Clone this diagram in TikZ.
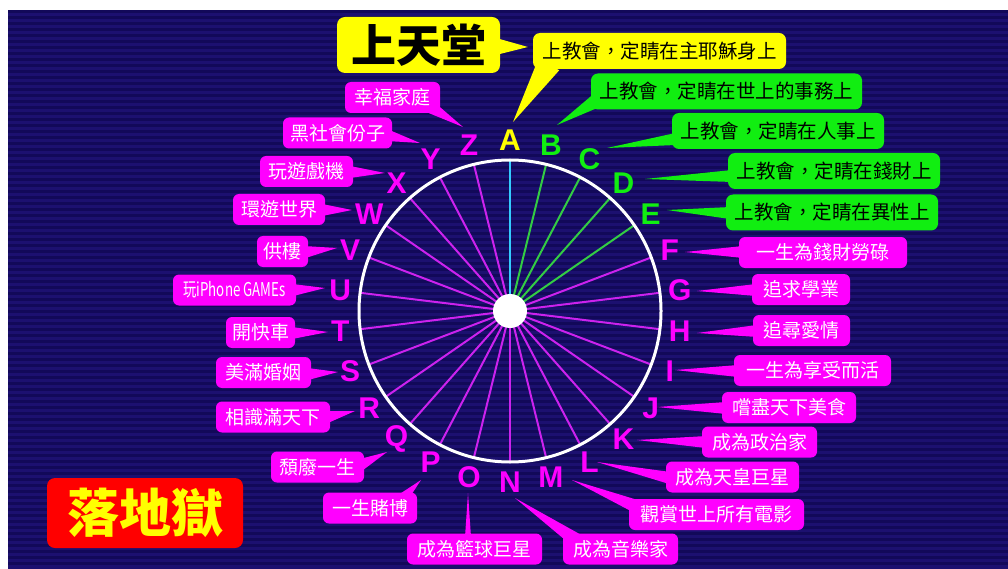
\documentclass[tikz,border=0pt]{standalone}
\usepackage{fontspec}
\setsansfont{Liberation Sans}
\newfontfamily\cjk{Noto Sans CJK TC}
\usetikzlibrary{calc}
\definecolor{bg}{HTML}{1C1070}
\definecolor{bgdark}{HTML}{120959}
\definecolor{mag}{HTML}{FF00FF}
\definecolor{grn}{HTML}{11EE11}
\definecolor{yel}{HTML}{FFFF00}
\definecolor{hellred}{HTML}{FF0000}
\definecolor{smg}{HTML}{CC22EE}
\definecolor{sgr}{HTML}{33CC44}
\definecolor{scy}{HTML}{33CCFF}
\tikzset{
  box/.style={rounded corners=6pt, minimum height=31pt, inner sep=0pt, anchor=center},
  magbox/.style={box, fill=mag, text=white, font=\cjk\fontsize{19}{19}\selectfont},
  grnbox/.style={box, fill=grn, text=black, minimum height=36pt, rounded corners=7pt, font=\cjk\fontsize{19.5}{19.5}\selectfont},
  yelbox/.style={box, fill=yel, text=black, minimum height=36pt, rounded corners=7pt, font=\cjk\fontsize{19.5}{19.5}\selectfont},
  magtail/.style={fill=mag},
  grntail/.style={fill=grn},
  yeltail/.style={fill=yel},
  letter/.style={font=\sffamily\bfseries\fontsize{30}{30}\selectfont, inner sep=0pt},
  spoke/.style={line width=2pt}
}
% #1 name, #2 kind, #3 centre, #4 width, #5 text, #6 tip, #7 base, #8 half width
\newcommand\callout[8]{%
  \node[#2box, minimum width=#4pt] (box#1) at #3 {#5};
  \coordinate (tip#1) at #6;
  \coordinate (base#1) at #7;
  \fill[#2tail] ($(base#1)!#8pt!90:(tip#1)$) -- (tip#1) -- ($(base#1)!#8pt!-90:(tip#1)$) -- cycle;
}
\begin{document}
\begin{tikzpicture}[x=1pt,y=-1pt]
\useasboundingbox (0,0) rectangle (1008,569);
\fill[white] (0,0) rectangle (1008,569);
\fill[bg] (8,10) rectangle (1008,569);
\foreach \y in {10,16,...,566} \fill[bgdark] (8,\y) rectangle (1008,{\y+3});

% wheel
\coordinate (c) at (510,311);
\foreach \col [count=\i] in {scy,sgr,sgr,sgr,sgr,smg,smg,smg,smg,smg,smg,smg,smg,smg,smg,smg,smg,smg,smg,smg,smg,smg,smg,smg,smg,smg}{
  \pgfmathsetmacro\a{-90+(\i-1)*360/26}
  \draw[spoke, \col] (c) -- ($(c)+(\a:150)$);
}
\node[circle, draw=white, line width=3pt, minimum size=302pt, inner sep=0pt] (rim) at (c) {};
\node[circle, fill=white, minimum size=34pt, inner sep=0pt] (hub) at (c) {};

% letters
\foreach \L/\col [count=\i] in {A/yel,B/grn,C/grn,D/grn,E/grn,F/mag,G/mag,H/mag,I/mag,J/mag,K/mag,L/mag,M/mag,N/mag,O/mag,P/mag,Q/mag,R/mag,S/mag,T/mag,U/mag,V/mag,W/mag,X/mag,Y/mag,Z/mag}{
  \pgfmathsetmacro\a{-90+(\i-1)*360/26}
  \node[letter, text=\col] (L\L) at ($(c)+(\a:171)$) {\L};
}

% heaven / hell labels
\node[box, fill=yel, minimum width=163pt, minimum height=56pt, rounded corners=8pt, text=black, font=\cjk\bfseries\fontsize{45}{45}\selectfont] (heaven) at (418.5,45) {上天堂};
\coordinate (tipheaven) at (528,47);
\fill[yel] (496,38) -- (tipheaven) -- (496,55) -- cycle;
\node[box, fill=hellred, minimum width=196pt, minimum height=70pt, rounded corners=8pt, text=yel, font=\cjk\bfseries\fontsize{52}{52}\selectfont] (hell) at (145,513) {落地獄};

% callouts
\callout{A}{yel}{(659.5,51)}{253}{上教會，定睛在主耶穌身上}{(513,122)}{(549,64)}{12}
\callout{B}{grn}{(726.5,91.5)}{271}{上教會，定睛在世上的事務上}{(557,125)}{(596,101)}{7}
\callout{C}{grn}{(778,131)}{212}{上教會，定睛在人事上}{(607,148)}{(676,139)}{6}
\callout{D}{grn}{(834,171)}{212}{上教會，定睛在錢財上}{(645,179)}{(732,176)}{6}
\callout{E}{grn}{(832,212.5)}{212}{上教會，定睛在異性上}{(667,210)}{(730,213)}{6}
\callout{F}{mag}{(823,252.5)}{168}{一生為錢財勞碌}{(685,252)}{(743,252)}{6}
\callout{G}{mag}{(801,289.5)}{98}{追求學業}{(697,291)}{(756,290)}{6}
\callout{H}{mag}{(801.5,330.5)}{97}{追尋愛情}{(697,333)}{(757,331)}{6}
\callout{I}{mag}{(812.5,370.5)}{157}{一生為享受而活}{(675,370)}{(738,371)}{6}
\callout{J}{mag}{(789,407.5)}{134}{嚐盡天下美食}{(657,407)}{(726,408)}{6}
\callout{K}{mag}{(759.5,442)}{115}{成為政治家}{(637,440)}{(706,442)}{6}
\callout{L}{mag}{(732.5,477)}{133}{成為天皇巨星}{(597,462)}{(670,478)}{6}
\callout{M}{mag}{(716.5,514.5)}{175}{觀賞世上所有電影}{(572,480)}{(640,508)}{7}
\callout{N}{mag}{(620.5,549)}{115}{成為音樂家}{(515,498)}{(576,540)}{7}
\callout{O}{mag}{(474.5,549)}{135}{成為籃球巨星}{(468,493)}{(468,537)}{3}
\callout{P}{mag}{(370,508)}{94}{一生賭博}{(421,480)}{(404,497)}{5}
\callout{Q}{mag}{(317.5,467)}{93}{頹廢一生}{(387,452)}{(360,465)}{6}
\callout{R}{mag}{(273,417)}{114}{相識滿天下}{(355,411)}{(327,417)}{6}
\callout{S}{mag}{(263.5,372.5)}{95}{美滿婚姻}{(338,372)}{(308,374)}{6}
\callout{T}{mag}{(260.5,332.5)}{69}{開快車}{(328,332)}{(292,333)}{6}
\callout{U}{mag}{(234.5,290)}{123}{\scalebox{0.7}[1]{玩iPhone GAMEs}}{(325,288)}{(293,290)}{6}
\callout{V}{mag}{(282.5,251.5)}{51}{供樓}{(337,248)}{(305,252)}{6}
\callout{W}{mag}{(279,209.5)}{92}{環遊世界}{(352,210)}{(322,210)}{6}
\callout{X}{mag}{(306.5,171.5)}{93}{玩遊戲機}{(385,173)}{(350,172)}{6}
\callout{Y}{mag}{(337.5,133)}{109}{黑社會份子}{(420,143)}{(386,135)}{6}
\callout{Z}{mag}{(392.5,97.5)}{95}{幸福家庭}{(463,127)}{(432,108)}{6}
\end{tikzpicture}
\end{document}
